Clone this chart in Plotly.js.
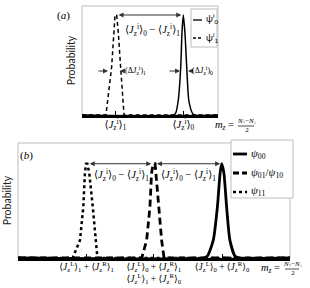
<!DOCTYPE html>
<html><head><meta charset="utf-8">
<script src="https://cdn.plot.ly/plotly-3.0.1.min.js"></script>
<style>html,body{margin:0;padding:0;background:#fff}</style>
</head><body><div id="c" style="width:310px;height:288px"></div>
<script>
// Panel (a): single-well states
const aDashX = [0, 17.6, 21.8, 23.5, 24.3, 25.5, 26.7, 28.4, 30.9, 100];
const aDashY = [0, 0, 0.48, 0.82, 1.0, 1.0, 0.82, 0.48, 0, 0];
const aSolidX = [0, 67.5, 68.9, 70.8, 72.6, 73.5, 74.5, 75.7, 77.0, 78.5, 81.1, 82.5, 100];
const aSolidY = [0, 0, 0.02, 0.15, 0.48, 0.82, 1.0, 0.82, 0.48, 0.15, 0.02, 0, 0];
const aCenters = [24.6, 74.5];
const aTickText = ['⟨<i>J</i><sub>z</sub><sup>i</sup>⟩<sub>1</sub>', '⟨<i>J</i><sub>z</sub><sup>i</sup>⟩<sub>0</sub>'];
const aNames = ['ψ<sup>i</sup><sub>0</sub>', 'ψ<sup>i</sup><sub>1</sub>'];

// Panel (b): double-well states
const bDotX = [0, 20.1, 22.8, 24.0, 24.6, 25.0, 25.5, 26.2, 27.5, 28.6, 29.2, 100];
const bDotY = [0, 0, 0.19, 0.54, 0.90, 1.0, 1.0, 0.90, 0.54, 0.19, 0, 0];
const bDashX = [0, 45.5, 47.3, 48.5, 49.1, 49.7, 50.4, 50.7, 51.6, 52.8, 53.7, 100];
const bDashY = [0, 0, 0.19, 0.54, 0.90, 1.0, 1.0, 0.90, 0.54, 0.19, 0, 0];
const bSolidX = [0, 68, 69.6, 71.8, 73.3, 74.3, 74.9, 75.7, 76.7, 77.9, 79.8, 81.5, 100];
const bSolidY = [0, 0, 0.02, 0.19, 0.54, 0.90, 1.0, 0.90, 0.54, 0.19, 0.02, 0, 0];
const bCenters = [25.2, 49.9, 75.0];
const bTickText = [
  '⟨<i>J</i><sub>z</sub><sup>L</sup>⟩<sub>1</sub> + ⟨<i>J</i><sub>z</sub><sup>R</sup>⟩<sub>1</sub>',
  '⟨<i>J</i><sub>z</sub><sup>L</sup>⟩<sub>0</sub> + ⟨<i>J</i><sub>z</sub><sup>R</sup>⟩<sub>1</sub><br>⟨<i>J</i><sub>z</sub><sup>L</sup>⟩<sub>1</sub> + ⟨<i>J</i><sub>z</sub><sup>R</sup>⟩<sub>0</sub>',
  '⟨<i>J</i><sub>z</sub><sup>L</sup>⟩<sub>0</sub> + ⟨<i>J</i><sub>z</sub><sup>R</sup>⟩<sub>0</sub>'
];
const bNames = ['<i>ψ</i><sub>00</sub>', '<i>ψ</i><sub>01</sub>/<i>ψ</i><sub>10</sub>', '<i>ψ</i><sub>11</sub>'];

const diffLabel = '⟨<i>J</i><sub>z</sub><sup>i</sup>⟩<sub>0</sub> − ⟨<i>J</i><sub>z</sub><sup>i</sup>⟩<sub>1</sub>';
const mzLabel = '<i>m</i><sub><i>z</i></sub> =';
const fracLabel = '<i>N</i><sub>↑</sub>−<i>N</i><sub>↓</sub><br>2';

const W = 310, H = 288;
const serif = 'Liberation Serif, DejaVu Serif, serif';
const sans = 'Lato, Open Sans, sans-serif';
const px = v => v / W, py = v => 1 - v / H;

const traces = [
  {x: aSolidX, y: aSolidY, xaxis: 'x', yaxis: 'y', mode: 'lines', line: {color: '#000', width: 1.5, shape: 'spline', smoothing: 0.6}, name: aNames[0], showlegend: false},
  {x: aDashX, y: aDashY, xaxis: 'x', yaxis: 'y', mode: 'lines', line: {color: '#000', width: 1.5, dash: '4px,3px'}, name: aNames[1], showlegend: false},
  {x: bSolidX, y: bSolidY, xaxis: 'x2', yaxis: 'y2', mode: 'lines', line: {color: '#000', width: 2.8, shape: 'spline', smoothing: 0.6}, name: bNames[0], showlegend: false},
  {x: bDashX, y: bDashY, xaxis: 'x2', yaxis: 'y2', mode: 'lines', line: {color: '#000', width: 2.8, dash: '7px,4px'}, name: bNames[1], showlegend: false},
  {x: bDotX, y: bDotY, xaxis: 'x2', yaxis: 'y2', mode: 'lines', line: {color: '#000', width: 2.5, dash: 'dot'}, name: bNames[2], showlegend: false}
];

const axX = (dom, vals, txt, fs) => ({domain: dom, range: [0, 100], showgrid: false, zeroline: false,
  showline: true, linecolor: '#000', linewidth: 2.5, ticks: 'inside', ticklen: 4, tickwidth: 1, tickcolor: '#000',
  tickvals: vals, ticktext: txt, tickfont: {family: serif, size: fs, color: '#000'}, ticklabelstandoff: -2, fixedrange: true});
const axY = (dom, rng, anchor) => ({domain: dom, range: rng, showgrid: false, zeroline: false, showline: false,
  showticklabels: false, ticks: '', anchor: anchor,
  title: {text: 'Probability', font: {family: sans, size: 10.5, color: '#222'}, standoff: 3}});

const arrow = (xr, yr, x, ax, y, w) => ({xref: xr, yref: yr, axref: xr, ayref: yr, x: x, y: y, ax: ax, ay: y,
  text: '', showarrow: true, arrowhead: 2, arrowsize: 1, arrowwidth: w, arrowcolor: '#333'});
const dbl = (xr, yr, x0, x1, y) => Object.assign(arrow(xr, yr, x1, x0, y, 1), {arrowside: 'end+start', startarrowhead: 2, startarrowsize: 1});
const txt = (t, x, y, size, xa, fam, xr, yr) => ({text: t, x: x, y: y, xref: xr || 'paper', yref: yr || 'paper',
  showarrow: false, xanchor: xa || 'center', yanchor: 'middle', font: {family: fam || serif, size: size, color: '#000'}});

const annotations = [
  txt('(<i>a</i>)', px(63), py(15), 11),
  txt('(<i>b</i>)', px(26), py(155), 11),
  // panel a arrows
  dbl('x', 'y', aCenters[0] + 1.2, aCenters[1] - 1.5, 1.0),
  txt(diffLabel, 51.5, 0.85, 10.5, 'center', serif, 'x', 'y'),
  arrow('x', 'y', 19.1, 11.0, 0.44, 1),
  arrow('x', 'y', 27.9, 31.0, 0.44, 1),
  txt('(Δ<i>J</i><sub>z</sub><sup>i</sup>)<sub>1</sub>', 29.8, 0.45, 8, 'left', serif, 'x', 'y'),
  arrow('x', 'y', 72.1, 63.2, 0.44, 1),
  arrow('x', 'y', 78.0, 81.0, 0.44, 1),
  txt('(Δ<i>J</i><sub>z</sub><sup>i</sup>)<sub>0</sub>', 79.6, 0.45, 8, 'left', serif, 'x', 'y'),
  // panel b arrows
  dbl('x2', 'y2', bCenters[0] + 0.6, bCenters[1] - 0.9, 1.0),
  dbl('x2', 'y2', bCenters[1] + 0.6, bCenters[2] - 0.7, 1.0),
  txt(diffLabel, 38.2, 0.88, 10.5, 'center', serif, 'x2', 'y2'),
  txt(diffLabel, 62.5, 0.88, 10.5, 'center', serif, 'x2', 'y2'),
  // m_z labels
  txt(mzLabel, px(213), py(125), 10.5, 'left'),
  txt(fracLabel, px(246), py(125), 7, 'center'),
  txt(mzLabel, px(259), py(268), 10.5, 'left'),
  txt(fracLabel, px(292), py(268), 7, 'center'),
  // legend a text
  txt(aNames[0], px(204), py(19), 9, 'left', sans),
  txt(aNames[1], px(204), py(37), 9, 'left', sans),
  // legend b text
  txt(bNames[0], px(249), py(154), 11, 'left'),
  txt(bNames[1], px(249), py(173), 11, 'left'),
  txt(bNames[2], px(249), py(191), 11, 'left')
];

const rect = (xr, yr) => ({type: 'rect', xref: xr + ' domain', yref: yr + ' domain', x0: 0, x1: 1, y0: 0, y1: 1,
  line: {color: '#bdbdbd', width: 1}, layer: 'below'});
const pline = (x0, x1, y, w, dash) => ({type: 'line', xref: 'paper', yref: 'paper', x0: px(x0), x1: px(x1), y0: py(y), y1: py(y),
  line: {color: '#000', width: w, dash: dash || 'solid'}});
const prect = (x0, y0, x1, y1) => ({type: 'rect', xref: 'paper', yref: 'paper', x0: px(x0), x1: px(x1), y0: py(y1), y1: py(y0),
  line: {color: '#bdbdbd', width: 1}, fillcolor: '#fff'});

const shapes = [
  rect('x', 'y'), rect('x2', 'y2'),
  prect(191, 9, 217, 47),
  pline(193, 202, 20, 1.3), pline(193, 202, 38, 1.3, '3px,2px'),
  prect(231, 140, 293, 198),
  pline(233, 247, 154, 2.8), pline(233, 247, 173, 2.8, '6px,3px'), pline(233, 247, 192, 2.3, 'dot'),
  pline(238, 254, 126, 0.7), pline(285, 299, 269, 0.7)
];

const layout = {
  width: W, height: H, margin: {l: 0, r: 0, t: 0, b: 0}, paper_bgcolor: '#fff', plot_bgcolor: '#fff',
  showlegend: false,
  xaxis: axX([px(82), px(218)], aCenters, aTickText, 10.5),
  yaxis: axY([py(115), py(6)], [0, 1.09], 'x'),
  xaxis2: Object.assign(axX([px(18), px(290)], bCenters, bTickText, 9.5), {anchor: 'y2'}),
  yaxis2: axY([py(258), py(143)], [0, 1.22], 'x2'),
  annotations: annotations, shapes: shapes
};
layout.xaxis.anchor = 'y';
Plotly.newPlot('c', traces, layout, {staticPlot: true, displayModeBar: false});
</script></body></html>
